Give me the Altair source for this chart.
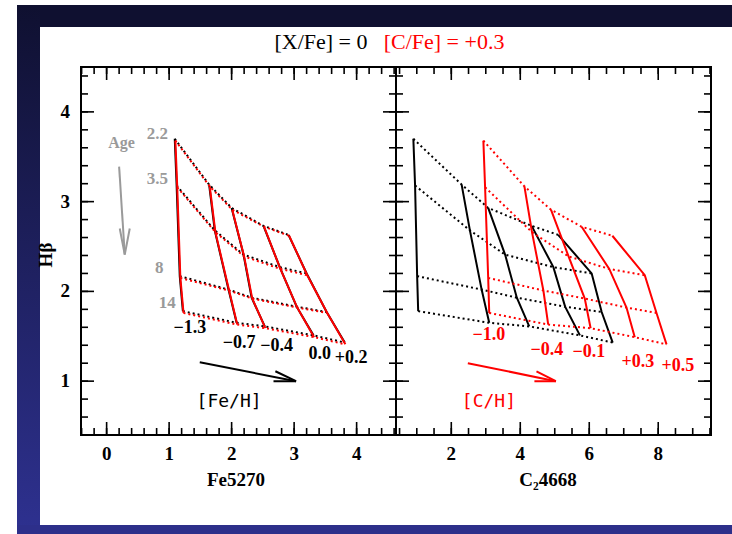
import altair as alt
import pandas as pd

# ---------------------------------------------------------------- data
ages = [2.2, 3.5, 8, 14]                      # Gyr
feh = [-1.3, -0.7, -0.4, 0.0, 0.2]            # [Fe/H] of the model tracks
ch = [-1.0, -0.4, -0.1, 0.3, 0.5]             # [C/H] of the C-enhanced tracks

# H-beta, rows = metallicity, columns = age
hb_solar = [
    [3.70, 3.18, 2.17, 1.78],
    [3.19, 2.68, 2.02, 1.65],
    [2.93, 2.41, 1.93, 1.61],
    [2.73, 2.27, 1.83, 1.51],
    [2.63, 2.20, 1.77, 1.43],
]
hb_cenh = [
    [3.68, 3.16, 2.15, 1.76],
    [3.17, 2.66, 2.01, 1.63],
    [2.91, 2.39, 1.92, 1.59],
    [2.72, 2.25, 1.82, 1.49],
    [2.62, 2.18, 1.76, 1.41],
]
# Fe5270
fe_solar = [
    [1.09, 1.12, 1.17, 1.22],
    [1.64, 1.73, 1.95, 2.08],
    [2.00, 2.19, 2.32, 2.53],
    [2.51, 2.77, 3.04, 3.31],
    [2.91, 3.20, 3.52, 3.81],
]
fe_cenh = [
    [1.10, 1.13, 1.18, 1.23],
    [1.65, 1.74, 1.96, 2.09],
    [2.01, 2.20, 2.33, 2.54],
    [2.52, 2.78, 3.05, 3.32],
    [2.92, 3.21, 3.53, 3.82],
]
# C2 4668
c2_solar = [
    [0.90, 0.95, 1.01, 1.04],
    [2.30, 2.54, 2.88, 3.10],
    [3.07, 3.56, 3.90, 4.26],
    [4.33, 4.96, 5.30, 5.73],
    [5.10, 6.07, 6.36, 6.68],
]
c2_cenh = [
    [2.93, 2.98, 3.07, 3.10],
    [4.12, 4.34, 4.67, 4.81],
    [4.89, 5.40, 5.87, 6.04],
    [5.78, 6.58, 7.08, 7.32],
    [6.67, 7.61, 7.95, 8.24],
]

age_labels = ["2.2", "3.5", "8", "14"]
age_label_fe = [0.81, 0.81, 0.84, 0.97]
age_label_hb = [3.75, 3.25, 2.26, 1.87]

feh_labels = ["\u22121.3", "\u22120.7", "\u22120.4", "0.0", "+0.2"]
feh_label_fe = [1.33, 2.12, 2.72, 3.41, 3.91]
feh_label_hb = [1.59, 1.42, 1.39, 1.30, 1.26]

ch_labels = ["\u22121.0", "\u22120.4", "\u22120.1", "+0.3", "+0.5"]
ch_label_c2 = [3.09, 4.77, 5.99, 7.41, 8.57]
ch_label_hb = [1.51, 1.35, 1.32, 1.21, 1.17]

# arrows: shaft start, tip, and the two barbs
age_arrow_fe = [0.20, 0.29]
age_arrow_hb = [3.39, 2.41]
age_barb_fe = [0.21, 0.29, 0.37]
age_barb_hb = [2.70, 2.41, 2.70]

fe_arrow_fe = [1.49, 3.03]
fe_arrow_hb = [1.21, 1.00]
fe_barb_fe = [2.67, 3.03, 2.70]
fe_barb_hb = [1.00, 1.00, 1.11]

c_arrow_c2 = [2.48, 5.03]
c_arrow_hb = [1.20, 1.00]
c_barb_c2 = [4.41, 5.03, 4.47]
c_barb_hb = [1.00, 1.00, 1.11]

# axis ticks
hb_major = [1, 2, 3, 4]
hb_minor = [round(0.4 + 0.2 * i, 1) for i in range(21)]
fe_major = [0, 1, 2, 3, 4]
fe_minor = [round(-0.4 + 0.2 * i, 1) for i in range(26)]
c2_major = [2, 4, 6, 8]
c2_minor = [round(0.5 + 0.5 * i, 1) for i in range(19)]

# ---------------------------------------------------------------- layout (pixels)
W, H = 732, 534
L, M, R = 81, 396, 711      # panel edges
T, B = 67, 435
MAJ, MIN = 13, 7             # tick lengths

SERIF = "Liberation Serif"
GREY = "#9a9a9a"
RED = "#ff0000"

y_sc = alt.Scale(domain=[0.4, 4.5], range=[B, T], nice=False, zero=False)
fe_sc = alt.Scale(domain=[-0.41, 4.63], range=[L, M], nice=False, zero=False)
c2_sc = alt.Scale(domain=[0.397, 9.53], range=[M, R], nice=False, zero=False)


def X(field, sc):
    return alt.X(f"{field}:Q", scale=sc, axis=None)


def Y(field="hb"):
    return alt.Y(f"{field}:Q", scale=y_sc, axis=None)


def grid(xv, hv, zlab):
    rows = []
    for i, z in enumerate(zlab):
        for j, a in enumerate(ages):
            rows.append(dict(z=z, age=a, zi=i, aj=j, x=xv[i][j], hb=hv[i][j]))
    return pd.DataFrame(rows)


def tracks(df, sc, color, dx=0):
    solid = alt.Chart(df).mark_line(color=color, strokeWidth=2, xOffset=dx).encode(
        x=X("x", sc), y=Y(), detail="z:N", order="aj:Q")
    dotted = alt.Chart(df).mark_line(color=color, strokeWidth=2, strokeDash=[2, 3],
                                     xOffset=dx).encode(
        x=X("x", sc), y=Y(), detail="age:N", order="zi:Q")
    return [solid, dotted]


one = pd.DataFrame({"k": [0]})


def band(x1, x2, y1, y2, fill):
    return alt.Chart(one).mark_rect(fill=fill, stroke=None).encode(
        x=alt.value(x1), x2=alt.value(x2), y=alt.value(y1), y2=alt.value(y2))


layers = []

# slide frame
layers.append(band(17, W, 5, 27, "#0f1030"))
layers.append(band(17, 40, 5, H, alt.Gradient(
    gradient="linear", x1=0, y1=0, x2=0, y2=1,
    stops=[alt.GradientStop(color="#0f1030", offset=0),
           alt.GradientStop(color="#2e3190", offset=1)])))
layers.append(band(17, W, 525, H, "#2d2f8a"))

# model grids
layers += tracks(grid(fe_solar, hb_solar, feh), fe_sc, "black")
layers += tracks(grid(fe_cenh, hb_cenh, feh), fe_sc, RED)
layers += tracks(grid(c2_solar, hb_solar, feh), c2_sc, "black")
layers += tracks(grid(c2_cenh, hb_cenh, ch), c2_sc, RED)

# frame
layers.append(alt.Chart(one).mark_rect(fill=None, stroke="black", strokeWidth=2).encode(
    x=alt.value(L), x2=alt.value(R), y=alt.value(T), y2=alt.value(B)))
layers.append(alt.Chart(one).mark_rule(color="black", strokeWidth=2).encode(
    x=alt.value(M), y=alt.value(T), y2=alt.value(B)))

# ticks on every edge, pointing inward
for vals, ln in ((hb_minor, MIN), (hb_major, MAJ)):
    d = pd.DataFrame({"hb": vals})
    for x0, sgn in ((L, 1), (M, -1), (M, 1), (R, -1)):
        layers.append(alt.Chart(d).mark_rule(color="black", strokeWidth=1.6).encode(
            y=Y(), x=alt.value(x0), x2=alt.value(x0 + sgn * ln)))
for vals, sc, ln in ((fe_minor, fe_sc, MIN), (fe_major, fe_sc, MAJ),
                     (c2_minor, c2_sc, MIN), (c2_major, c2_sc, MAJ)):
    d = pd.DataFrame({"x": vals})
    for y0, sgn in ((B, -1), (T, 1)):
        layers.append(alt.Chart(d).mark_rule(color="black", strokeWidth=1.6).encode(
            x=X("x", sc), y=alt.value(y0), y2=alt.value(y0 + sgn * ln)))

# tick labels
lab = dict(font=SERIF, fontWeight="bold", fontSize=19, color="black")
layers.append(alt.Chart(pd.DataFrame({"hb": hb_major, "t": [str(v) for v in hb_major]}))
              .mark_text(align="right", baseline="middle", **lab)
              .encode(y=Y(), x=alt.value(70), text="t:N"))
layers.append(alt.Chart(pd.DataFrame({"x": fe_major, "t": [str(v) for v in fe_major]}))
              .mark_text(align="center", baseline="middle", **lab)
              .encode(x=X("x", fe_sc), y=alt.value(454), text="t:N"))
layers.append(alt.Chart(pd.DataFrame({"x": c2_major, "t": [str(v) for v in c2_major]}))
              .mark_text(align="center", baseline="middle", **lab)
              .encode(x=X("x", c2_sc), y=alt.value(454), text="t:N"))

# axis titles
layers.append(alt.Chart(one).mark_text(text="Fe5270", align="center", baseline="middle", **lab)
              .encode(x=alt.value(236), y=alt.value(480)))
layers.append(alt.Chart(one).mark_text(text="C\u20824668", align="center", baseline="middle", **lab)
              .encode(x=alt.value(548), y=alt.value(480)))
layers.append(alt.Chart(one).mark_text(text="H\u03b2", align="center", baseline="middle",
                                       angle=270, **lab)
              .encode(x=alt.value(46), y=alt.value(255)))

# title
ttl = dict(font="Liberation Sans Narrow", fontSize=22, baseline="middle", align="center")
layers.append(alt.Chart(one).mark_text(text="[X/Fe] = 0", color="black", **ttl)
              .encode(x=alt.value(321), y=alt.value(42)))
layers.append(alt.Chart(one).mark_text(text="[C/Fe] = +0.3", color=RED, **ttl)
              .encode(x=alt.value(444), y=alt.value(42)))

# age labels and arrow
layers.append(alt.Chart(pd.DataFrame({"x": age_label_fe, "hb": age_label_hb, "t": age_labels}))
              .mark_text(align="center", baseline="middle", font=SERIF, fontWeight="bold",
                         fontSize=17, color=GREY)
              .encode(x=X("x", fe_sc), y=Y(), text="t:N"))
layers.append(alt.Chart(pd.DataFrame({"x": [0.24], "hb": [3.65], "t": ["Age"]}))
              .mark_text(align="center", baseline="middle", font=SERIF, fontWeight="bold",
                         fontSize=16, color=GREY)
              .encode(x=X("x", fe_sc), y=Y(), text="t:N"))


def arrow(xs, hs, bx, bh, sc, color, width=2):
    shaft = alt.Chart(pd.DataFrame({"x": xs, "hb": hs, "o": range(len(xs))})).mark_line(
        color=color, strokeWidth=width).encode(x=X("x", sc), y=Y(), order="o:Q")
    barb = alt.Chart(pd.DataFrame({"x": bx, "hb": bh, "o": range(len(bx))})).mark_line(
        color=color, strokeWidth=width).encode(x=X("x", sc), y=Y(), order="o:Q")
    return [shaft, barb]


layers += arrow(age_arrow_fe, age_arrow_hb, age_barb_fe, age_barb_hb, fe_sc, GREY)
layers += arrow(fe_arrow_fe, fe_arrow_hb, fe_barb_fe, fe_barb_hb, fe_sc, "black")
layers += arrow(c_arrow_c2, c_arrow_hb, c_barb_c2, c_barb_hb, c2_sc, RED)

# metallicity labels
layers.append(alt.Chart(pd.DataFrame({"x": feh_label_fe, "hb": feh_label_hb, "t": feh_labels}))
              .mark_text(align="center", baseline="middle", font=SERIF, fontWeight="bold",
                         fontSize=18, color="black")
              .encode(x=X("x", fe_sc), y=Y(), text="t:N"))
layers.append(alt.Chart(pd.DataFrame({"x": ch_label_c2, "hb": ch_label_hb, "t": ch_labels}))
              .mark_text(align="center", baseline="middle", font=SERIF, fontWeight="bold",
                         fontSize=18, color=RED)
              .encode(x=X("x", c2_sc), y=Y(), text="t:N"))

mono = dict(font="DejaVu Sans Mono", fontSize=18, align="center", baseline="middle")
layers.append(alt.Chart(pd.DataFrame({"x": [1.96], "hb": [0.77], "t": ["[Fe/H]"]}))
              .mark_text(color="black", **mono).encode(x=X("x", fe_sc), y=Y(), text="t:N"))
layers.append(alt.Chart(pd.DataFrame({"x": [3.09], "hb": [0.77], "t": ["[C/H]"]}))
              .mark_text(color=RED, **mono).encode(x=X("x", c2_sc), y=Y(), text="t:N"))

chart = alt.layer(*layers).resolve_scale(x="independent").properties(
    width=W, height=H, padding=0, autosize=alt.AutoSizeParams(type="none"),
    background="white",
).configure_view(stroke=None)

chart.save("out.html", embed_options={"renderer": "svg", "actions": False})
